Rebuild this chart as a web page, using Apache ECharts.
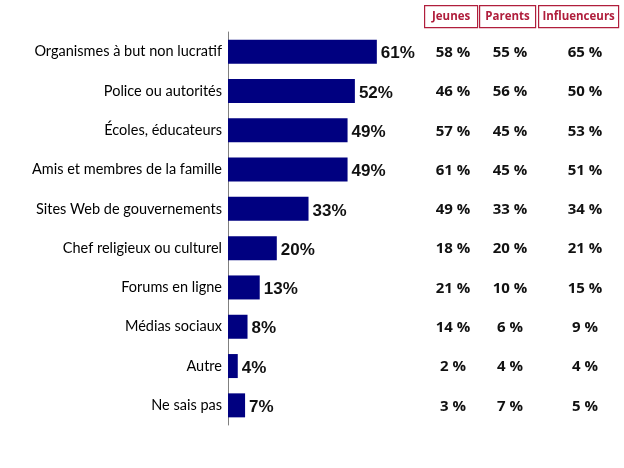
<!DOCTYPE html>
<html><head><meta charset="utf-8">
<script src="https://cdn.jsdelivr.net/npm/echarts@6/dist/echarts.min.js"></script>
<style>html,body{margin:0;padding:0;background:#fff}#c{width:624px;height:468px}</style>
</head><body><div id="c"></div>
<script>
const categories = ["Organismes à but non lucratif","Police ou autorités","Écoles, éducateurs","Amis et membres de la famille","Sites Web de gouvernements","Chef religieux ou culturel","Forums en ligne","Médias sociaux","Autre","Ne sais pas"];
const total = [61,52,49,49,33,20,13,8,4,7];
const jeunes = [58,46,57,61,49,18,21,14,2,3];
const parents = [55,56,45,45,33,20,10,6,4,7];
const influenceurs = [65,50,53,51,34,21,15,9,4,5];
const headers = ["Jeunes","Parents","Influenceurs"];

const pxPerPct = 2.44;
const gridLeft = 228;
const xMax = 160;
const colX = [453, 510, 585].map(p => (p - gridLeft) / pxPerPct);

function colSeries(vals, x) {
  return {
    type: 'scatter', symbolSize: 0, silent: true,
    itemStyle: { opacity: 1 },
    data: vals.map((v, i) => [x, i, v]),
    label: { show: true, position: 'inside', offset: [0, 1], formatter: p => p.data[2] + ' %',
      fontFamily: 'Open Sans', fontWeight: 'bold', fontSize: 15, color: '#111' }
  };
}

const chart = echarts.init(document.getElementById('c'));
const hdrBoxes = [[424,477],[479,535],[538,618]];
chart.setOption({
  animation: false,
  grid: { left: gridLeft, top: 32, width: xMax * pxPerPct, height: 393 },
  xAxis: { type: 'value', min: 0, max: xMax, show: false },
  yAxis: { type: 'category', data: categories, inverse: true,
    axisLine: { show: true, lineStyle: { color: '#808080', width: 1 } },
    axisTick: { show: false },
    axisLabel: { fontFamily: 'Lato', fontSize: 14.5, color: '#000', margin: 6 } },
  series: [
    { type: 'bar', data: total, barWidth: 24, itemStyle: { color: '#000080' },
      label: { show: true, position: 'right', distance: 4, offset: [0, 2], formatter: '{c}%',
        fontFamily: 'Liberation Sans', fontWeight: 'bold', fontSize: 17, color: '#111' } },
    colSeries(jeunes, colX[0]),
    colSeries(parents, colX[1]),
    colSeries(influenceurs, colX[2])
  ],
  graphic: headers.map((h, i) => ({
    type: 'group', left: hdrBoxes[i][0], top: 5,
    children: [
      { type: 'rect', shape: { x: 0, y: 0, width: hdrBoxes[i][1] - hdrBoxes[i][0], height: 22 },
        style: { fill: '#fff', stroke: '#b01e3c', lineWidth: 1.2 } },
      { type: 'text', x: (hdrBoxes[i][1] - hdrBoxes[i][0]) / 2, y: 11,
        style: { text: h, fill: '#b01e3c', font: 'bold 11.5px "Open Sans"', align: 'center', verticalAlign: 'middle' } }
    ]
  }))
});
</script></body></html>
